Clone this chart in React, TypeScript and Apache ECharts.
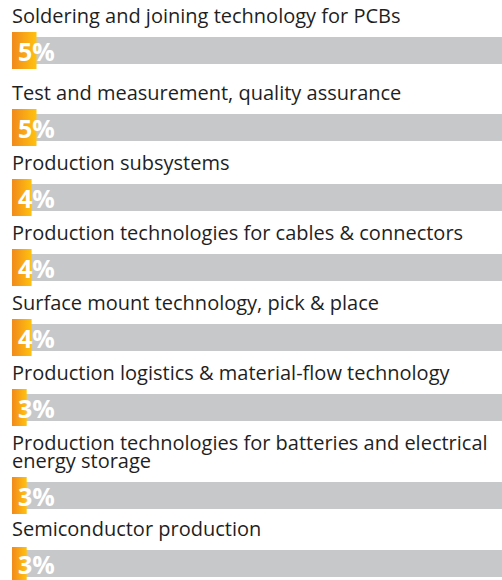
import React, { useEffect, useRef } from "react";
import * as echarts from "echarts";

// ---- data ----
const categories: string[] = [
  "Soldering and joining technology for PCBs",
  "Test and measurement, quality assurance",
  "Production subsystems",
  "Production technologies for cables & connectors",
  "Surface mount technology, pick & place",
  "Production logistics & material-flow technology",
  "Production technologies for batteries and electrical energy storage",
  "Semiconductor production",
];
const shares: number[] = [5, 5, 4, 4, 4, 3, 3, 3];
const axisMax = 100;

// ---- layout (not data) ----
const rowTops = [32, 109, 179, 249, 319, 389, 477, 547];
const ROW_H = 37;
const TRACK_H = 27;
const LEFT = 12;
const PLOT_W = 515;

const FONT = "'Open Sans', 'Noto Sans', sans-serif";

export default function App() {
  const ref = useRef<HTMLDivElement>(null);
  useEffect(() => {
    if (!ref.current) return;
    const chart = echarts.init(ref.current, null, { renderer: "svg" });
    const grids: any[] = [];
    const xAxes: any[] = [];
    const yAxes: any[] = [];
    const series: any[] = [];
    categories.forEach((name, i) => {
      grids.push({ left: LEFT, top: rowTops[i], width: PLOT_W, height: ROW_H, containLabel: false });
      xAxes.push({ gridIndex: i, type: "value", min: 0, max: axisMax, show: false });
      yAxes.push({ gridIndex: i, type: "category", data: [name], show: false });
      yAxes.push({ gridIndex: i, type: "category", data: [name], show: false });
      series.push({
        type: "bar",
        name: "track",
        xAxisIndex: i,
        yAxisIndex: 2 * i,
        data: [shares[i]],
        barWidth: TRACK_H,
        itemStyle: { color: "transparent" },
        showBackground: true,
        backgroundStyle: { color: "#C7C8CA" },
        silent: true,
        z: 1,
        label: {
          show: true,
          formatter: "{b}",
          position: [0, -13],
          align: "left",
          verticalAlign: "bottom",
          color: "#1f1f1f",
          fontFamily: FONT,
          fontSize: 20,
          lineHeight: 18,
          width: 492,
          overflow: "break",
        },
      });
      series.push({
        type: "bar",
        name: "share",
        xAxisIndex: i,
        yAxisIndex: 2 * i + 1,
        data: [shares[i]],
        barWidth: ROW_H,
        z: 2,
        itemStyle: {
          color: new echarts.graphic.LinearGradient(0, 0, 1, 0, [
            { offset: 0, color: "#F18A1C" },
            { offset: 1, color: "#FFC20E" },
          ]),
        },
        label: {
          show: true,
          position: "insideLeft",
          distance: 6,
          formatter: "{c}%",
          color: "#ffffff",
          fontFamily: FONT,
          fontWeight: "bold",
          fontSize: 25,
        },
      });
    });
    chart.setOption({
      animation: false,
      backgroundColor: "#ffffff",
      grid: grids,
      xAxis: xAxes,
      yAxis: yAxes,
      series,
    });
    return () => chart.dispose();
  }, []);
  return (
    <div
      ref={ref}
      style={{ position: "absolute", left: 0, top: 0, width: 502, height: 580 }}
    />
  );
}
